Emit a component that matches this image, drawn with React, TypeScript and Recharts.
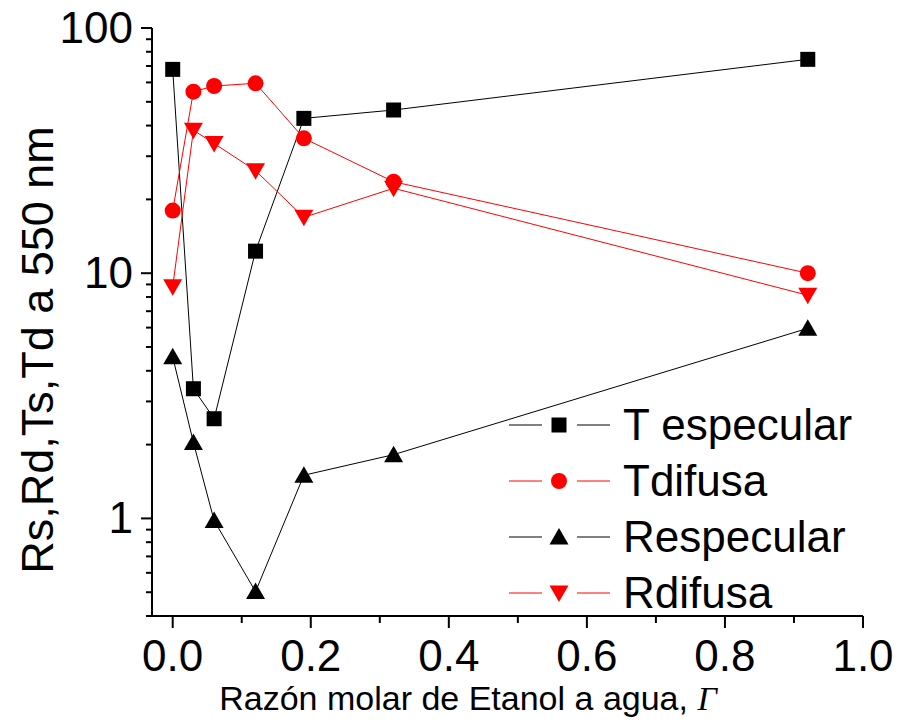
import { LineChart, Line, XAxis, YAxis } from "recharts";

const xVals = [0, 0.03, 0.06, 0.12, 0.19, 0.32, 0.92];
const tEspecular = [67.8, 3.38, 2.55, 12.3, 42.8, 46.3, 74.5];
const tDifusa = [18.0, 55.0, 58.0, 59.5, 35.5, 23.6, 10.0];
const rEspecular = [4.56, 2.04, 0.98, 0.503, 1.5, 1.82, 5.96];
const rDifusa = [8.8, 38.3, 33.8, 26.2, 16.9, 22.2, 8.13];

const xTicks = [0, 0.1, 0.2, 0.3, 0.4, 0.5, 0.6, 0.7, 0.8, 0.9, 1.0];
const xMajor = [0, 0.2, 0.4, 0.6, 0.8, 1.0];
const yTicks = [
  0.4, 0.5, 0.6, 0.7, 0.8, 0.9, 1, 2, 3, 4, 5, 6, 7, 8, 9, 10, 20, 30, 40, 50,
  60, 70, 80, 90, 100,
];
const yMajor = [1, 10, 100];

const series = [
  { key: "tEsp", name: "T especular", color: "#000000", shape: "square" },
  { key: "tDif", name: "Tdifusa", color: "#ff0000", shape: "circle" },
  { key: "rEsp", name: "Respecular", color: "#000000", shape: "up" },
  { key: "rDif", name: "Rdifusa", color: "#ff0000", shape: "down" },
];

const rows = xVals.map((x, i) => ({
  x,
  tEsp: tEspecular[i],
  tDif: tDifusa[i],
  rEsp: rEspecular[i],
  rDif: rDifusa[i],
}));

const FONT = "'Liberation Sans', Arial, sans-serif";

const Marker = ({ cx, cy, shape, color }: any) => {
  if (cx == null || cy == null) return null;
  if (shape === "square")
    return <rect x={cx - 7.5} y={cy - 7.5} width={15} height={15} fill={color} />;
  if (shape === "circle") return <circle cx={cx} cy={cy} r={8} fill={color} />;
  if (shape === "up")
    return (
      <polygon
        points={`${cx},${cy - 9} ${cx - 9.5},${cy + 7.5} ${cx + 9.5},${cy + 7.5}`}
        fill={color}
      />
    );
  return (
    <polygon
      points={`${cx},${cy + 9} ${cx - 9.5},${cy - 7.5} ${cx + 9.5},${cy - 7.5}`}
      fill={color}
    />
  );
};

// ticks drawn by hand so majors/minors get different lengths
const XTick = ({ x, y, payload, showLabel }: any) => {
  const major = xMajor.includes(payload.value);
  const len = major ? 12 : 7;
  return (
    <g>
      <line x1={x} y1={y} x2={x} y2={y + len} stroke="#000" strokeWidth={2} />
      {showLabel && major && (
        <text x={x} y={y + 55} textAnchor="middle" fontSize={44} fontFamily={FONT} fill="#000">
          {payload.value.toFixed(1)}
        </text>
      )}
    </g>
  );
};

const YTick = ({ x, y, payload, showLabel }: any) => {
  const major = yMajor.includes(payload.value);
  const len = major ? 11 : 6;
  return (
    <g>
      <line x1={x - len} y1={y} x2={x} y2={y} stroke="#000" strokeWidth={2} />
      {showLabel && major && (
        <text x={x - 19} y={y + 15} textAnchor="end" fontSize={44} fontFamily={FONT} fill="#000">
          {payload.value}
        </text>
      )}
    </g>
  );
};

const XTitle = ({ viewBox }: any) => (
  <text x={viewBox.x + 316} y={viewBox.y + 94} textAnchor="middle" fontSize={34} fontFamily={FONT} fill="#000">
    Razón molar de Etanol a agua,{" "}
    <tspan fontFamily="'Liberation Serif', 'Times New Roman', serif" fontStyle="italic">
      Γ
    </tspan>
  </text>
);

const YTitle = () => (
  <text
    x={53}
    y={350}
    transform="rotate(-90 53 350)"
    textAnchor="middle"
    fontSize={45}
    fontFamily={FONT}
    fill="#000"
  >
    Rs,Rd,Ts,Td a 550 nm
  </text>
);

const LegendBox = () => (
  <svg width={910} height={724} style={{ position: "absolute", left: 0, top: 0, pointerEvents: "none" }}>
    {series.map((s, i) => {
      const cy = 425 + i * 56;
      return (
        <g key={s.key}>
          <line x1={509} x2={542} y1={cy} y2={cy} stroke={s.color} strokeWidth={1} />
          <line x1={577} x2={610} y1={cy} y2={cy} stroke={s.color} strokeWidth={1} />
          <Marker cx={559} cy={cy} shape={s.shape} color={s.color} />
          <text x={623} y={cy + 15} fontSize={44} fontFamily={FONT} fill="#000">
            {s.name}
          </text>
        </g>
      );
    })}
  </svg>
);

export default function App() {
  return (
    <div style={{ position: "absolute", left: 0, top: 0, width: 910, height: 724, background: "#fff" }}>
      <LineChart
        width={910}
        height={724}
        data={rows}
        margin={{ top: 28, right: 47, bottom: 0, left: 0 }}
      >
        <XAxis
          dataKey="x"
          type="number"
          domain={[-0.03, 1]}
          ticks={xTicks}
          interval={0}
          allowDataOverflow
          height={108}
          tickSize={0}
          tickMargin={0}
          tickLine={false}
          axisLine={{ stroke: "#000", strokeWidth: 2 }}
          tick={<XTick showLabel />}
          label={<XTitle />}
        />
        <XAxis
          xAxisId="top"
          orientation="top"
          dataKey="x"
          type="number"
          domain={[-0.03, 1]}
          ticks={xTicks}
          interval={0}
          allowDataOverflow
          height={0}
          tickSize={0}
          tickMargin={0}
          tickLine={false}
          axisLine={{ stroke: "#000", strokeWidth: 2 }}
          tick={<XTick />}
        />
        <YAxis
          type="number"
          scale="log"
          domain={[0.4, 100]}
          ticks={yTicks}
          interval={0}
          allowDataOverflow
          width={152}
          tickSize={0}
          tickMargin={0}
          tickLine={false}
          axisLine={{ stroke: "#000", strokeWidth: 2 }}
          tick={<YTick showLabel />}
          label={<YTitle />}
        />
        <YAxis
          yAxisId="right"
          orientation="right"
          type="number"
          scale="log"
          domain={[0.4, 100]}
          ticks={yTicks}
          interval={0}
          allowDataOverflow
          width={0}
          tickSize={0}
          tickMargin={0}
          tickLine={false}
          axisLine={{ stroke: "#000", strokeWidth: 2 }}
          tick={<YTick />}
        />
        {series.map((s) => (
          <Line
            key={s.key}
            dataKey={s.key}
            name={s.name}
            type="linear"
            stroke={s.color}
            strokeWidth={1}
            isAnimationActive={false}
            activeDot={false}
            dot={(p: any) => <Marker key={`${s.key}-${p.index}`} cx={p.cx} cy={p.cy} shape={s.shape} color={s.color} />}
          />
        ))}
      </LineChart>
      <LegendBox />
    </div>
  );
}
